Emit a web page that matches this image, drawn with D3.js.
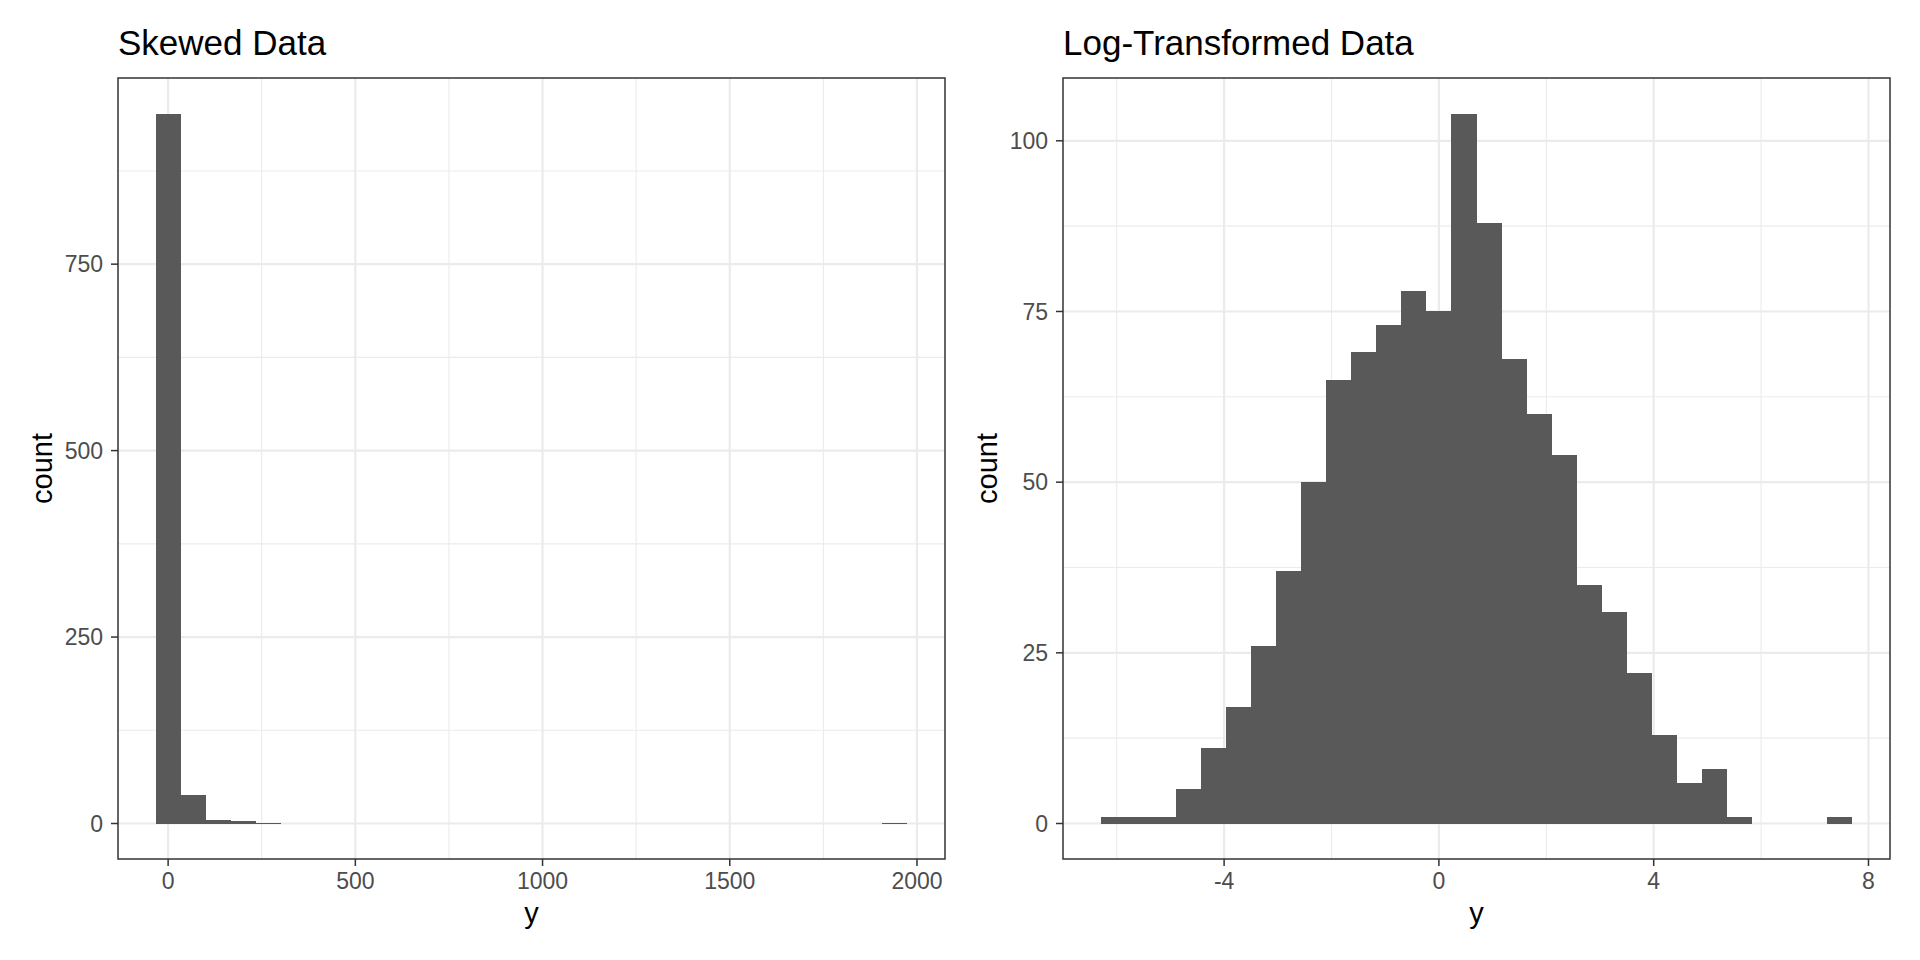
<!DOCTYPE html>
<html>
<head>
<meta charset="utf-8">
<style>
  body { margin: 0; background: #fff; }
  text { font-family: "Liberation Sans", Arial, sans-serif; }
</style>
</head>
<body>
<svg id="chart"></svg>
<script src="https://cdn.jsdelivr.net/npm/d3@7/dist/d3.min.js"></script>
<script>
// ---- data (30 bins each) ----
var skewCounts = [952, 38, 5, 3, 1, 0, 0, 0, 0, 0,
                  0, 0, 0, 0, 0, 0, 0, 0, 0, 0,
                  0, 0, 0, 0, 0, 0, 0, 0, 0, 1];
var skewFirstCenter = 0;
var skewBinWidth = 66.93;
var skewXTicks = [0, 500, 1000, 1500, 2000];
var skewYTicks = [0, 250, 500, 750];

var logCounts = [1, 1, 1, 5, 11, 17, 26, 37, 50, 65,
                 69, 73, 78, 75, 104, 88, 68, 60, 54, 35,
                 31, 22, 13, 6, 8, 1, 0, 0, 0, 1];
var logFirstCenter = -6.067;
var logBinWidth = 0.4667;
var logXTicks = [-4, 0, 4, 8];
var logYTicks = [0, 25, 50, 75, 100];

var titles = ["Skewed Data", "Log-Transformed Data"];

var W = 1920, H = 960;
var panelTop = 78, panelBottom = 859;

var svg = d3.select("#chart")
  .attr("width", W)
  .attr("height", H);

svg.append("rect")
  .attr("width", W)
  .attr("height", H)
  .attr("fill", "#ffffff");

// minor breaks halfway between majors (also past the ends if inside the panel)
function minorBreaks(ticks, domain) {
  var step = ticks[1] - ticks[0];
  var out = [];
  for (var v = ticks[0] - step / 2; v <= ticks[ticks.length - 1] + step / 2 + 1e-9; v += step) {
    if (v >= domain[0] && v <= domain[1]) out.push(v);
  }
  return out;
}

function drawPanel(left, right, title, counts, firstCenter, binWidth, xTicks, yTicks) {
  var bins = counts.map(function(c, i) {
    var mid = firstCenter + i * binWidth;
    return { x0: mid - binWidth / 2, x1: mid + binWidth / 2, count: c };
  });

  var lo = bins[0].x0, hi = bins[bins.length - 1].x1;
  var padX = (hi - lo) * 0.05;
  var x = d3.scaleLinear().domain([lo - padX, hi + padX]).range([left, right]);

  var maxC = d3.max(counts);
  var y = d3.scaleLinear().domain([-maxC * 0.05, maxC * 1.05]).range([panelBottom, panelTop]);

  var g = svg.append("g");

  // grid
  var xMinor = minorBreaks(xTicks, x.domain());
  var yMinor = minorBreaks(yTicks, y.domain());

  g.selectAll(".xminor").data(xMinor).enter().append("line")
    .attr("x1", function(d) { return x(d); })
    .attr("x2", function(d) { return x(d); })
    .attr("y1", panelTop).attr("y2", panelBottom)
    .attr("stroke", "#ebebeb").attr("stroke-width", 1.1);
  g.selectAll(".yminor").data(yMinor).enter().append("line")
    .attr("y1", function(d) { return y(d); })
    .attr("y2", function(d) { return y(d); })
    .attr("x1", left).attr("x2", right)
    .attr("stroke", "#ebebeb").attr("stroke-width", 1.1);
  g.selectAll(".xmajor").data(xTicks).enter().append("line")
    .attr("x1", function(d) { return x(d); })
    .attr("x2", function(d) { return x(d); })
    .attr("y1", panelTop).attr("y2", panelBottom)
    .attr("stroke", "#ebebeb").attr("stroke-width", 2.2);
  g.selectAll(".ymajor").data(yTicks).enter().append("line")
    .attr("y1", function(d) { return y(d); })
    .attr("y2", function(d) { return y(d); })
    .attr("x1", left).attr("x2", right)
    .attr("stroke", "#ebebeb").attr("stroke-width", 2.2);

  // bars (crisp edges so neighbouring bins join without seams)
  g.selectAll(".bar").data(bins.filter(function(b) { return b.count > 0; })).enter().append("rect")
    .attr("x", function(d) { return x(d.x0); })
    .attr("width", function(d) { return x(d.x1) - x(d.x0); })
    .attr("y", function(d) { return y(d.count); })
    .attr("height", function(d) { return y(0) - y(d.count); })
    .attr("fill", "#595959")
    .attr("shape-rendering", "crispEdges");

  // panel border
  g.append("rect")
    .attr("x", left).attr("y", panelTop)
    .attr("width", right - left).attr("height", panelBottom - panelTop)
    .attr("fill", "none")
    .attr("stroke", "#333333")
    .attr("stroke-width", 1.5);

  // x axis ticks + labels
  g.selectAll(".xtick").data(xTicks).enter().append("line")
    .attr("x1", function(d) { return x(d); })
    .attr("x2", function(d) { return x(d); })
    .attr("y1", panelBottom).attr("y2", panelBottom + 7)
    .attr("stroke", "#333333").attr("stroke-width", 1.5);
  g.selectAll(".xlab").data(xTicks).enter().append("text")
    .attr("x", function(d) { return x(d); })
    .attr("y", panelBottom + 30)
    .attr("text-anchor", "middle")
    .attr("fill", "#4d4d4d")
    .style("font-size", "23px")
    .text(function(d) { return d; });

  // y axis ticks + labels
  g.selectAll(".ytick").data(yTicks).enter().append("line")
    .attr("y1", function(d) { return y(d); })
    .attr("y2", function(d) { return y(d); })
    .attr("x1", left - 7).attr("x2", left)
    .attr("stroke", "#333333").attr("stroke-width", 1.5);
  g.selectAll(".ylab").data(yTicks).enter().append("text")
    .attr("x", left - 15)
    .attr("y", function(d) { return y(d); })
    .attr("dy", "0.36em")
    .attr("text-anchor", "end")
    .attr("fill", "#4d4d4d")
    .style("font-size", "23px")
    .text(function(d) { return d; });

  // axis titles
  g.append("text")
    .attr("x", (left + right) / 2)
    .attr("y", 923)
    .attr("text-anchor", "middle")
    .attr("fill", "#000")
    .style("font-size", "29px")
    .text("y");
  g.append("text")
    .attr("transform", "translate(" + (left - 66) + "," + ((panelTop + panelBottom) / 2) + ") rotate(-90)")
    .attr("text-anchor", "middle")
    .attr("fill", "#000")
    .style("font-size", "29px")
    .text("count");

  // panel title
  g.append("text")
    .attr("x", left)
    .attr("y", 55)
    .attr("fill", "#000")
    .style("font-size", "35px")
    .text(title);
}

drawPanel(118, 945, titles[0], skewCounts, skewFirstCenter, skewBinWidth, skewXTicks, skewYTicks);
drawPanel(1063, 1890, titles[1], logCounts, logFirstCenter, logBinWidth, logXTicks, logYTicks);
</script>
</body>
</html>
